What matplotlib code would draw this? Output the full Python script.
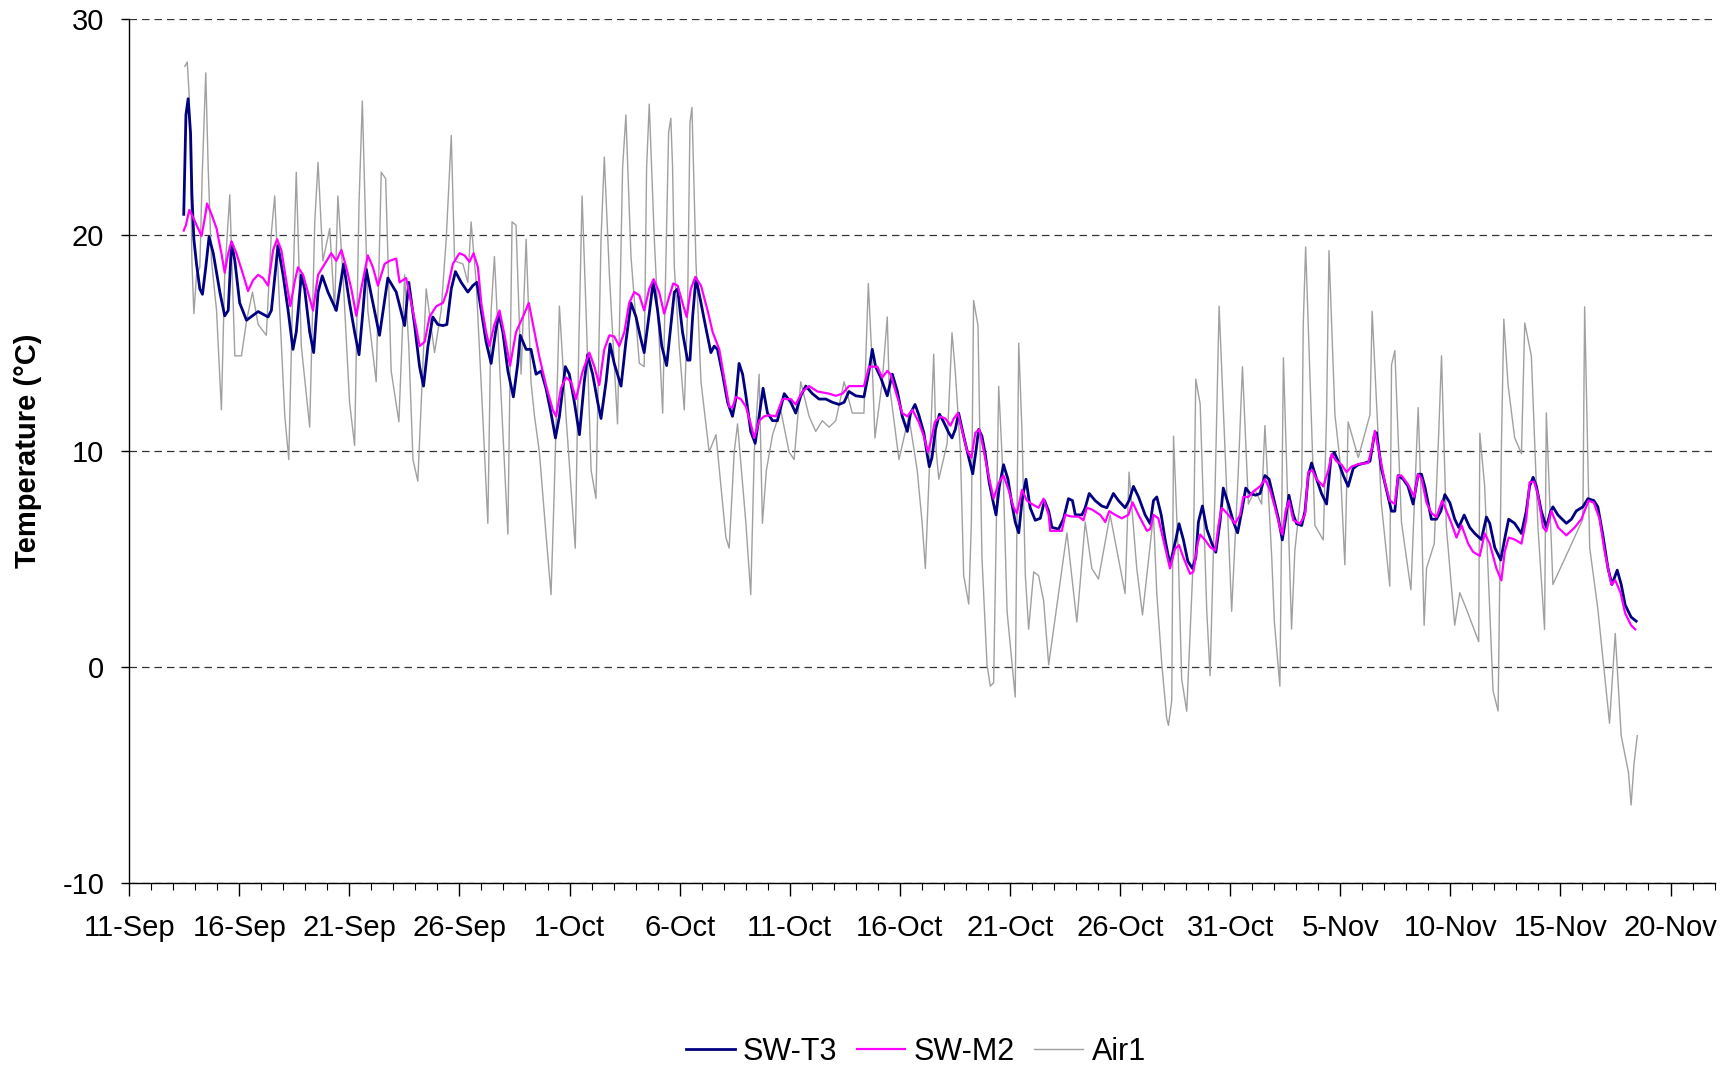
import pandas as pd
import numpy as np
import matplotlib
matplotlib.use("Agg")
import matplotlib.pyplot as plt

plt.rcParams['font.family'] = ['Liberation Sans', 'DejaVu Sans']
plt.rcParams['axes.unicode_minus'] = False

# days counted from 11-Sep
start_date = pd.Timestamp("2008-09-11")

t3_days = [2.48, 2.58, 2.68, 2.79, 2.85, 2.94, 3.06, 3.21, 3.33, 3.48, 3.63, 3.82, 4.12, 4.34, 4.5, 4.65, 4.8, 5.02, 5.33, 5.86,
           6.31, 6.46, 6.76, 6.99, 7.22, 7.44, 7.59, 7.82, 7.97, 8.2, 8.38, 8.58, 8.77, 9.03, 9.41, 9.74, 10.01, 10.24, 10.44, 10.62,
           10.77, 11.0, 11.37, 11.75, 12.13, 12.51, 12.7, 12.96,
           13.19, 13.37, 13.57, 13.79, 14.02, 14.25, 14.43, 14.63, 14.82, 15.08, 15.38, 15.61, 15.79, 15.99, 16.21, 16.44, 16.64, 16.79,
           16.97, 17.2, 17.45, 17.65, 17.76, 18.03, 18.25, 18.48, 18.71, 18.93, 19.16, 19.36, 19.54, 19.81, 19.99, 20.22, 20.45, 20.67,
           20.82, 21.05, 21.28, 21.43, 21.66, 21.84, 22.03, 22.34, 22.56, 22.79, 23.02, 23.2, 23.39, 23.62, 23.8, 24.0, 24.19, 24.41,
           24.76, 24.91, 25.13, 25.36, 25.47, 25.59, 25.74, 25.97, 26.19, 26.42, 26.57, 26.72, 26.95, 27.18, 27.4, 27.55, 27.7, 27.86,
           28.01, 28.23, 28.43, 28.61, 28.79, 28.99, 29.22, 29.44, 29.75, 30.05, 30.27, 30.5, 30.73, 31.03, 31.33, 31.64, 31.94, 32.24,
           32.47, 32.69, 33.0, 33.37, 33.6, 33.75, 33.9, 34.13, 34.43, 34.66, 34.89, 35.11, 35.34, 35.49, 35.69,
           35.86, 36.09, 36.24, 36.34, 36.46, 36.62, 36.8, 36.99, 37.22, 37.37, 37.52, 37.67, 37.9, 38.13, 38.31, 38.46, 38.58, 38.73,
           38.88, 39.06, 39.26, 39.37, 39.52, 39.71, 39.91, 40.09, 40.24, 40.4, 40.55, 40.73, 40.92, 41.15, 41.38, 41.57, 41.76, 41.91,
           42.21, 42.44, 42.66, 42.84, 42.97, 43.27, 43.42, 43.6, 43.87, 44.17, 44.4, 44.7, 44.93, 45.23, 45.41, 45.61, 45.84, 46.14,
           46.37, 46.52, 46.67, 46.87, 47.05, 47.27,
           47.53, 47.68, 47.88, 48.08, 48.29, 48.44, 48.56, 48.74, 48.94, 49.17, 49.35, 49.54, 49.69, 49.92, 50.15, 50.34, 50.53, 50.71,
           50.9, 51.16, 51.36, 51.58, 51.77, 51.96, 52.19, 52.37, 52.52, 52.67, 52.87, 53.02, 53.25, 53.4, 53.55, 53.7, 53.93, 54.15,
           54.38, 54.58, 54.73, 54.91, 55.14, 55.36, 55.59, 55.82, 56.12, 56.35, 56.54, 56.65, 56.87, 57.1, 57.33, 57.48, 57.63, 57.86,
           58.08, 58.31,
           58.54, 58.69, 58.84, 59.14, 59.37, 59.57, 59.75, 59.98, 60.2, 60.38, 60.63, 60.88, 61.11, 61.41, 61.64, 61.79, 62.02, 62.29,
           62.5, 62.65, 62.92, 63.23, 63.45, 63.6, 63.76, 63.91, 64.13, 64.36, 64.56, 64.66, 64.89, 65.27, 65.5, 65.72, 66.02, 66.25,
           66.52, 66.7, 66.93, 67.16, 67.34, 67.58, 67.76, 67.94, 68.21, 68.44]
t3_vals = [20.95, 25.56, 26.3, 24.7, 21.9, 19.8, 18.65, 17.5, 17.25, 18.5, 19.9, 19.15, 17.35, 16.25, 16.5, 19.65, 18.8, 16.85, 16.05, 16.45,
           16.2, 16.5, 19.5, 18.15, 16.5, 14.7, 15.5, 18.15, 17.5, 15.5, 14.55, 17.35, 18.1, 17.35, 16.5, 18.65, 16.85, 15.5, 14.45, 16.5,
           18.4, 17.2, 15.35, 18.0, 17.35, 15.8, 17.8, 15.85,
           13.9, 13.0, 14.85, 16.2, 15.85, 15.8, 15.85, 17.5, 18.3, 17.8, 17.35, 17.65, 17.8, 16.5, 15.05, 14.05, 15.5, 16.35,
           15.5, 13.7, 12.5, 14.05, 15.35, 14.7, 14.7, 13.55, 13.7, 12.9, 11.75, 10.6, 11.6, 13.9, 13.55, 12.25, 10.75, 13.2,
           14.45, 13.55, 12.25, 11.5, 13.2, 14.95, 14.05, 13.0, 15.05, 16.85, 16.2, 15.35, 14.55, 16.35, 17.85, 16.5, 14.85, 13.95,
           17.35, 17.5, 15.5, 14.2, 14.2, 16.2, 18.0, 16.85, 15.7, 14.55, 14.85, 14.7, 13.55, 12.25, 11.6, 12.4, 14.05, 13.55,
           12.55, 10.9, 10.35, 11.6, 12.9, 11.75, 11.4, 11.4, 12.65, 12.25, 11.75, 12.55, 13.0, 12.65, 12.4, 12.4, 12.25, 12.15,
           12.25, 12.75, 12.55, 12.5, 13.7, 14.7, 13.9, 13.4, 12.55, 13.55, 12.75, 11.6, 10.9, 11.75, 12.15,
           11.67, 10.84, 9.85, 9.27, 9.69, 11.0, 11.7, 11.34, 10.84, 10.6, 11.0, 11.75, 10.68, 9.69, 8.94, 10.02, 11.0, 10.68,
           9.85, 8.53, 7.54, 7.04, 8.36, 9.36, 8.69, 7.54, 6.71, 6.21, 7.7, 8.69, 7.37, 6.79, 6.88, 7.7, 7.21, 6.46,
           6.38, 6.88, 7.79, 7.7, 7.04, 7.04, 7.37, 8.03, 7.7, 7.45, 7.37, 8.03, 7.7, 7.37, 7.7, 8.36, 7.87, 7.04,
           6.63, 7.7, 7.87, 7.04, 5.88, 4.73,
           5.88, 6.63, 5.88, 4.89, 4.56, 5.06, 6.71, 7.45, 6.38, 5.72, 5.31, 6.71, 8.28, 7.54, 6.71, 6.21, 7.21, 8.28,
           8.03, 7.95, 8.03, 8.86, 8.69, 7.87, 6.88, 5.88, 6.88, 7.95, 7.04, 6.63, 6.55, 7.21, 8.86, 9.44, 8.69, 8.03,
           7.54, 9.69, 9.93, 9.52, 8.86, 8.36, 9.19, 9.36, 9.44, 9.52, 10.68, 10.84, 9.19, 8.2, 7.21, 7.21, 8.86, 8.69,
           8.36, 7.54,
           8.92, 8.92, 8.36, 6.84, 6.84, 7.22, 7.98, 7.6, 6.84, 6.46, 7.03, 6.46, 6.18, 5.9, 6.94, 6.65, 5.52, 4.95,
           6.09, 6.84, 6.65, 6.18, 7.22, 8.36, 8.78, 8.36, 7.22, 6.46, 7.22, 7.41, 7.03, 6.65, 6.84, 7.22, 7.41, 7.79,
           7.7, 7.41, 6.09, 4.57, 3.82, 4.48, 3.82, 2.87, 2.31, 2.12]

m2_days = [2.48, 2.58, 2.73, 2.91, 3.13, 3.29, 3.44, 3.54, 3.74, 3.97, 4.19, 4.34, 4.5, 4.65, 4.87, 5.18, 5.4, 5.63, 5.86, 6.08,
           6.31, 6.54, 6.72, 6.91, 7.14, 7.32, 7.52, 7.67, 7.9, 8.12, 8.35, 8.58, 8.88, 9.18, 9.41, 9.64, 9.86, 10.09, 10.32, 10.54,
           10.84, 11.07, 11.3, 11.6, 11.83, 12.13, 12.28, 12.58, 12.81, 13.04,
           13.19, 13.42, 13.64, 13.95, 14.25, 14.43, 14.7, 15.0, 15.23, 15.46, 15.64, 15.84, 15.99, 16.21, 16.36, 16.59, 16.82, 17.05,
           17.3, 17.57, 17.88, 18.15, 18.41, 18.63, 18.93, 19.24, 19.39, 19.61, 19.84, 20.07, 20.29, 20.6, 20.9, 21.13, 21.35, 21.58,
           21.81, 22.03, 22.26, 22.49, 22.71, 22.94, 23.17, 23.39, 23.62, 23.82, 24.07, 24.3,
           24.53, 24.71, 24.91, 25.13, 25.32, 25.51, 25.71, 25.97, 26.27, 26.5, 26.8, 27.02, 27.25, 27.4, 27.55, 27.78, 28.01, 28.23,
           28.39, 28.61, 28.84, 29.06, 29.37, 29.67, 30.05, 30.27, 30.58, 30.88, 31.26, 31.79, 32.09, 32.39, 32.69, 33.37, 33.6, 33.98,
           34.2, 34.43, 34.58, 34.81, 35.11, 35.34, 35.57,
           35.86, 36.09, 36.28, 36.46, 36.59, 36.84, 37.07, 37.3, 37.45, 37.64, 37.83, 38.05, 38.25, 38.43, 38.61, 38.81, 39.03, 39.26,
           39.49, 39.71, 39.94, 40.17, 40.32, 40.55, 40.77, 41.0, 41.3, 41.53, 41.76, 41.83, 42.36, 42.51, 42.81, 43.12, 43.34, 43.49,
           43.72, 44.1, 44.33, 44.51, 44.78, 45.08, 45.38, 45.57, 45.84, 46.22, 46.37, 46.52, 46.74, 46.97, 47.27,
           47.5, 47.68, 47.88, 48.18, 48.33, 48.53, 48.64, 48.86, 49.09, 49.32, 49.47, 49.62, 49.92, 50.22, 50.45, 50.6, 50.83, 51.05,
           51.36, 51.58, 51.81, 52.04, 52.26, 52.37, 52.52, 52.67, 52.87, 53.17, 53.4, 53.55, 53.73, 53.93, 54.23, 54.46, 54.61, 54.83,
           55.06, 55.29, 55.51, 55.82, 56.27, 56.45, 56.57, 56.75, 57.03, 57.25, 57.48, 57.63, 57.78, 58.08, 58.36,
           58.54, 58.69, 58.92, 59.14, 59.37, 59.63, 59.82, 60.05, 60.28, 60.51, 60.81, 61.03, 61.34, 61.56, 61.79, 62.09, 62.32, 62.47,
           62.65, 62.92, 63.23, 63.45, 63.6, 63.8, 63.98, 64.21, 64.36, 64.59, 64.89, 65.27, 65.65, 65.95, 66.28, 66.52, 66.78, 67.01,
           67.31, 67.49, 67.73, 67.94, 68.21, 68.4]
m2_vals = [20.2, 20.45, 21.15, 20.8, 20.3, 19.95, 20.8, 21.45, 20.95, 20.3, 19.15, 18.25, 19.15, 19.7, 19.15, 18.15, 17.4, 17.9, 18.15, 18.0,
           17.65, 19.3, 19.8, 19.3, 17.85, 16.7, 17.85, 18.5, 18.15, 17.35, 16.5, 18.15, 18.65, 19.15, 18.8, 19.3, 18.5, 17.5, 16.25, 17.5,
           19.05, 18.5, 17.65, 18.65, 18.8, 18.9, 17.8, 18.0, 16.85, 15.7,
           14.85, 15.05, 16.2, 16.7, 16.85, 17.35, 18.65, 19.15, 19.05, 18.75, 19.15, 18.5, 16.85, 15.5, 14.85, 15.85, 16.5, 15.35,
           13.95, 15.5, 16.2, 16.85, 15.5, 14.35, 13.05, 11.9, 11.6, 12.9, 13.4, 13.2, 12.4, 13.7, 14.55, 13.9, 13.05, 14.7,
           15.35, 15.3, 14.85, 15.5, 16.85, 17.35, 17.2, 16.5, 17.5, 17.95, 17.35, 16.35,
           17.15, 17.75, 17.65, 16.85, 16.2, 17.5, 18.05, 17.65, 16.5, 15.5, 14.7, 13.4, 12.05, 12.0, 12.5, 12.4, 12.05, 11.25,
           10.6, 11.4, 11.6, 11.65, 11.6, 12.4, 12.4, 12.15, 12.75, 13.0, 12.75, 12.65, 12.55, 12.65, 13.0, 13.0, 13.9, 13.9,
           13.4, 13.7, 13.55, 12.75, 11.75, 11.6, 11.9,
           11.34, 10.68, 9.93, 10.68, 11.34, 11.59, 11.5, 11.17, 11.5, 11.75, 10.93, 10.02, 9.69, 10.84, 11.0, 10.02, 8.86, 7.79,
           8.53, 8.86, 8.2, 7.37, 7.12, 8.2, 7.7, 7.54, 7.37, 7.79, 7.04, 6.3, 6.3, 7.04, 6.96, 6.96, 6.79, 7.37,
           7.29, 7.04, 6.71, 7.21, 7.04, 6.88, 7.04, 7.62, 7.04, 6.3, 6.38, 7.04, 6.88, 5.88, 4.56,
           5.47, 5.64, 5.06, 4.31, 4.4, 5.72, 6.13, 5.88, 5.55, 5.39, 6.55, 7.37, 7.04, 6.63, 7.04, 7.87, 7.87, 8.12,
           8.36, 8.69, 8.2, 7.37, 6.46, 6.13, 7.21, 7.7, 6.79, 6.63, 7.04, 9.02, 9.11, 8.69, 8.36, 9.11, 9.85, 9.52,
           9.36, 9.02, 9.27, 9.39, 9.44, 10.18, 10.93, 10.02, 8.53, 7.7, 7.54, 8.86, 8.86, 8.45, 7.87,
           8.92, 8.73, 7.6, 7.13, 6.94, 7.7, 7.22, 6.65, 5.99, 6.56, 5.71, 5.33, 5.14, 6.18, 5.71, 4.57, 4.01, 5.33,
           5.99, 5.9, 5.71, 6.84, 8.55, 8.58, 7.98, 6.46, 6.28, 7.22, 6.46, 6.09, 6.46, 6.84, 7.7, 7.6, 6.84, 5.33,
           3.82, 4.01, 3.44, 2.49, 1.93, 1.74]

air_days = [2.53, 2.64, 2.73, 2.79, 2.85, 2.94, 3.06, 3.21, 3.32, 3.48, 3.59, 3.74, 3.97, 4.19, 4.34, 4.57, 4.8, 5.1, 5.33, 5.6,
            5.86, 6.23, 6.46, 6.61, 6.84, 7.07, 7.25, 7.41, 7.59, 7.82, 8.2, 8.43, 8.58, 8.8, 9.11, 9.33, 9.48, 9.71, 10.01, 10.24,
            10.44, 10.59, 10.84, 11.22, 11.45, 11.65, 11.9, 12.25, 12.51, 12.7, 12.89, 13.11,
            13.49, 13.87, 14.17, 14.4, 14.63, 14.78, 15.16, 15.38, 15.53, 15.76, 16.06, 16.29, 16.44, 16.59, 16.82, 17.2, 17.39, 17.57,
            17.8, 18.03, 18.25, 18.41, 18.63, 18.93, 19.16, 19.31, 19.54, 19.84, 20.26, 20.42, 20.57, 20.75, 20.98, 21.2, 21.43, 21.58,
            21.81, 22.18, 22.41, 22.56, 22.79, 23.17, 23.39, 23.5, 23.62, 23.85, 24.23, 24.5, 24.6,
            24.68, 24.76, 24.98, 25.21, 25.36, 25.47, 25.56, 25.74, 25.97, 26.34, 26.65, 27.1, 27.25, 27.48, 27.63, 28.01, 28.23, 28.39,
            28.61, 28.76, 28.94, 29.22, 29.59, 29.97, 30.2, 30.5, 30.88, 31.18, 31.48, 31.79, 32.09, 32.47, 32.84, 33.37, 33.57, 33.75,
            33.87, 34.2, 34.43, 34.51, 34.96, 35.41, 35.79,
            36.01, 36.16, 36.31, 36.54, 36.65, 36.77, 37.15, 37.37, 37.52, 37.75, 37.9, 38.13, 38.25, 38.35, 38.55, 38.73, 38.96, 39.11,
            39.26, 39.49, 39.71, 39.87, 40.24, 40.4, 40.55, 40.7, 40.85, 41.08, 41.3, 41.53, 41.76, 42.21, 42.59, 43.04, 43.42, 43.72,
            44.02, 44.55, 45.23, 45.41, 45.76, 46.02, 46.52, 46.67, 46.9, 47.12, 47.2,
            47.35, 47.43, 47.65, 47.8, 48.03, 48.33, 48.44, 48.64, 48.94, 49.09, 49.32, 49.5, 49.77, 50.07, 50.37, 50.56, 50.83, 51.13,
            51.43, 51.58, 51.89, 52.01, 52.26, 52.42, 52.79, 52.94, 53.25, 53.32, 53.43, 53.7, 53.85, 54.23, 54.38, 54.49, 54.76, 54.99,
            55.21, 55.36, 55.82, 56.35, 56.45, 56.87, 57.25, 57.33, 57.48, 57.78, 58.21, 58.54,
            58.66, 58.81, 58.92, 59.27, 59.48, 59.6, 59.82, 60.2, 60.43, 60.73, 61.29, 61.34, 61.56, 61.94, 62.17, 62.32, 62.43, 62.62,
            62.92, 63.23, 63.38, 63.68, 63.98, 64.28, 64.36, 64.66, 65.34, 66.02, 66.1, 66.33, 66.7, 67.23, 67.49, 67.76, 68.09, 68.21,
            68.34, 68.49]
air_vals = [27.8, 28.0, 26.4, 23.1, 18.8, 16.35, 18.15, 18.5, 22.8, 27.5, 23.1, 18.8, 16.5, 11.9, 18.15, 21.85, 14.4, 14.4, 16.0, 17.35,
            15.85, 15.35, 20.1, 21.8, 16.5, 11.6, 9.6, 16.5, 22.9, 14.85, 11.1, 20.6, 23.35, 18.8, 20.3, 16.5, 21.8, 18.15, 12.25, 10.25,
            21.45, 26.2, 16.5, 13.2, 22.9, 22.6, 13.7, 11.35, 18.15, 14.85, 9.6, 8.6,
            17.5, 14.55, 16.5, 19.8, 24.6, 18.8, 18.65, 17.8, 20.6, 17.8, 11.6, 6.65, 16.5, 19.0, 14.05, 6.15, 20.6, 20.45,
            13.55, 19.8, 13.2, 11.6, 9.95, 6.15, 3.35, 8.3, 16.7, 11.6, 5.5, 14.85, 21.8, 16.5, 9.1, 7.8, 19.8, 23.6,
            18.15, 11.25, 23.1, 25.55, 19.0, 14.05, 13.9, 23.1, 26.05, 19.8, 11.75, 24.75, 25.4,
            23.1, 18.5, 14.85, 11.9, 16.5, 25.2, 25.9, 18.8, 13.2, 9.95, 10.75, 6.0, 5.5, 9.95, 11.25, 6.65, 3.35, 9.95,
            13.55, 6.65, 9.1, 10.75, 11.9, 9.95, 9.6, 13.2, 11.6, 10.9, 11.4, 11.1, 11.4, 13.2, 11.75, 11.75, 17.75, 13.9,
            10.6, 13.2, 16.2, 13.2, 9.6, 11.6, 9.1,
            6.71, 4.56, 8.36, 14.48, 10.02, 8.69, 10.35, 15.47, 13.65, 10.02, 4.23, 2.91, 6.71, 16.96, 15.8, 5.06, 0.1, -0.89,
            -0.73, 12.99, 8.36, 2.58, -1.39, 14.98, 10.84, 4.23, 1.75, 4.4, 4.23, 3.07, 0.1, 3.4, 6.21, 2.08, 6.71, 4.56,
            4.07, 7.04, 3.4, 9.02, 4.56, 2.41, 7.04, 3.4, 0.1, -2.38, -2.7,
            -1.55, 10.68, 5.06, -0.56, -2.05, 5.06, 13.32, 12.17, 2.58, -0.4, 8.36, 16.7, 10.02, 2.58, 9.02, 13.9, 7.54, 8.2,
            7.54, 11.17, 5.06, 2.08, -0.89, 14.31, 1.75, 5.39, 8.36, 15.8, 19.44, 11.17, 6.55, 5.88, 11.67, 19.27, 11.67, 9.52,
            4.73, 11.34, 9.69, 11.67, 16.46, 7.54, 3.74, 13.98, 14.64, 6.71, 3.57, 12.0,
            8.36, 1.93, 4.57, 5.71, 11.0, 14.4, 6.46, 1.93, 3.44, 2.68, 1.17, 10.81, 8.36, -1.1, -2.04, 10.25, 16.1, 13.08,
            10.62, 9.87, 15.92, 14.4, 6.46, 1.74, 11.76, 3.82, 5.33, 6.84, 16.67, 5.52, 2.68, -2.6, 1.55, -3.18, -4.88, -6.39,
            -4.5, -3.18]

tick_days = list(range(0, 71, 5))
tick_labels = []
for d in tick_days:
    dt = start_date + pd.Timedelta(days=d)
    tick_labels.append(f"{dt.day}-{dt.strftime('%b')}")

fig = plt.figure(figsize=(17.31, 10.68), dpi=100)
ax = fig.add_axes([0.0746, 0.1732, 0.9159, 0.8092])

ax.plot(air_days, air_vals, color="#a0a0a0", lw=1.0, label="Air1", zorder=2)
ax.plot(t3_days, t3_vals, color="#000080", lw=2.0, label="SW-T3", zorder=3)
ax.plot(m2_days, m2_vals, color="#ff00ff", lw=1.6, label="SW-M2", zorder=4)

ax.set_xlim(0, 72)
ax.set_ylim(-10, 30)
ax.set_yticks([-10, 0, 10, 20, 30])
ax.set_xticks(tick_days)
ax.set_xticklabels(tick_labels)
ax.set_xticks(np.arange(0, 73, 1), minor=True)

ax.yaxis.grid(True, color="#333333", linestyle=(0, (6, 4)), lw=0.9)
ax.set_axisbelow(True)
for s in ["top", "right"]:
    ax.spines[s].set_visible(False)
ax.spines["left"].set_linewidth(1.0)
ax.spines["bottom"].set_linewidth(1.0)

ax.tick_params(axis="x", which="major", length=9, width=1, labelsize=21, pad=13)
ax.tick_params(axis="x", which="minor", length=5, width=0.8)
ax.tick_params(axis="y", which="major", length=6, width=1, labelsize=21, pad=12)

ax.set_ylabel("Temperature (°C)", fontsize=21, fontweight="bold")
ax.yaxis.set_label_coords(-0.055, 0.5)

handles, labels = ax.get_legend_handles_labels()
order = [1, 2, 0]
fig.legend([handles[i] for i in order], [labels[i] for i in order],
           loc="center", bbox_to_anchor=(0.529, 0.015), ncol=3, frameon=False,
           fontsize=22, handlelength=1.6, handletextpad=0.28, columnspacing=0.62)

fig.savefig("out.png", dpi=100)
